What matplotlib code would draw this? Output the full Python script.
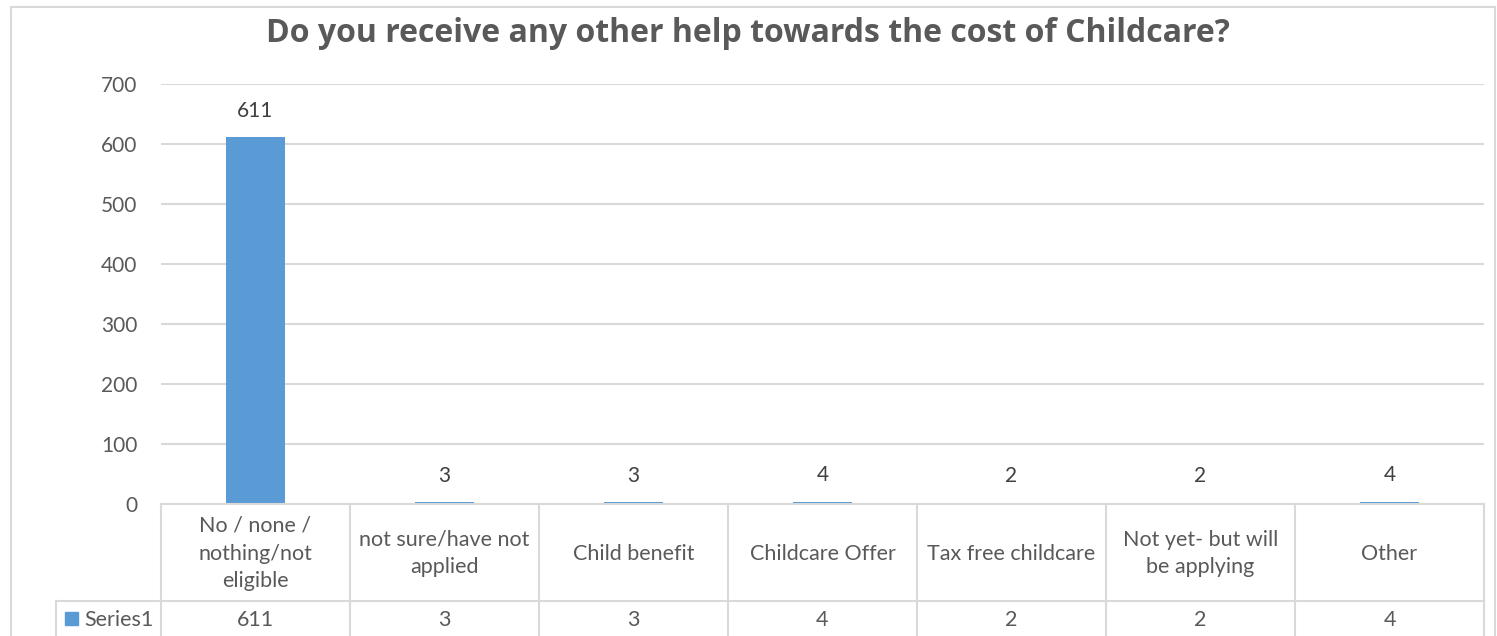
import matplotlib.pyplot as plt
from matplotlib.patches import Rectangle

categories = ["No / none /\nnothing/not\neligible", "not sure/have not\napplied",
              "Child benefit", "Childcare Offer", "Tax free childcare",
              "Not yet- but will\nbe applying", "Other"]
values = [611, 3, 3, 4, 2, 2, 4]
series_name = "Series1"
yticks = [0, 100, 200, 300, 400, 500, 600, 700]

BAR = "#5b9bd5"
GRID = "#d9d9d9"
TXT = "#595959"

plt.rcParams['font.family'] = ['Lato', 'DejaVu Sans']

W, H = 1497, 636
fig = plt.figure(figsize=(W / 100, H / 100), dpi=100)

# outer chart border
fig.patches.append(Rectangle((11 / W, -0.05), (1495 - 11) / W, 1 - 7 / H + 0.05,
                             transform=fig.transFigure, fill=False,
                             edgecolor=GRID, lw=1.5))

left, right = 161 / W, 1484 / W
ax = fig.add_axes([left, 1 - 504 / H, right - left, (504 - 84) / H])
x = range(len(values))
ax.bar(x, values, width=0.31, color=BAR, zorder=3)
for xi, v in zip(x, values):
    ax.annotate(str(v), (xi, v), xytext=(0, 12), textcoords="offset points",
                ha="center", va="bottom", fontsize=15, color="#404040")

ax.set_xlim(-0.5, len(values) - 0.5)
ax.set_ylim(0, 700)
ax.set_yticks(yticks)
ax.tick_params(axis="y", length=0, labelsize=15, labelcolor=TXT, pad=17)
ax.set_xticks([])
ax.grid(axis="y", color=GRID, lw=1.5, zorder=0)
for s in ax.spines.values():
    s.set_visible(False)

fig.text(748 / W, 1 - 33 / H,
         "Do you receive any other help towards the cost of Childcare?",
         fontsize=23, fontweight="bold", color=TXT, ha="center", va="center",
         family=['Open Sans', 'DejaVu Sans'])

# data table under the axis
tab = fig.add_axes([left, 0, right - left, (H - 504) / H], sharex=ax)
tab.set_ylim(H - 504, 0)
tab.axis("off")
n = len(values)
col_w = (right - left) * W / n
x_first = -0.5 - (161 - 56) / col_w
row_split = 601 - 504
kw = dict(color=GRID, lw=1.5, clip_on=False)
tab.plot([-0.5, n - 0.5], [0, 0], **kw)
tab.plot([x_first, n - 0.5], [row_split, row_split], **kw)
for i in range(n + 1):
    tab.plot([i - 0.5, i - 0.5], [0, H - 504 + 5], **kw)
tab.plot([x_first, x_first], [row_split, H - 504 + 5], **kw)

for i, (c, v) in enumerate(zip(categories, values)):
    tab.text(i, row_split / 2 + 1, c, ha="center", va="center", fontsize=15.5,
             color=TXT, linespacing=1.48)
    tab.text(i, (row_split + H - 504) / 2 + 1, str(v), ha="center", va="center",
             fontsize=15.5, color=TXT)

tab.add_patch(Rectangle((x_first + 9 / col_w, row_split + 11), 13 / col_w, 13,
                        color=BAR, clip_on=False))
tab.text(x_first + 28 / col_w, (row_split + H - 504) / 2 + 1, series_name,
         ha="left", va="center", fontsize=15.5, color=TXT)

fig.savefig("out.png", dpi=100)
